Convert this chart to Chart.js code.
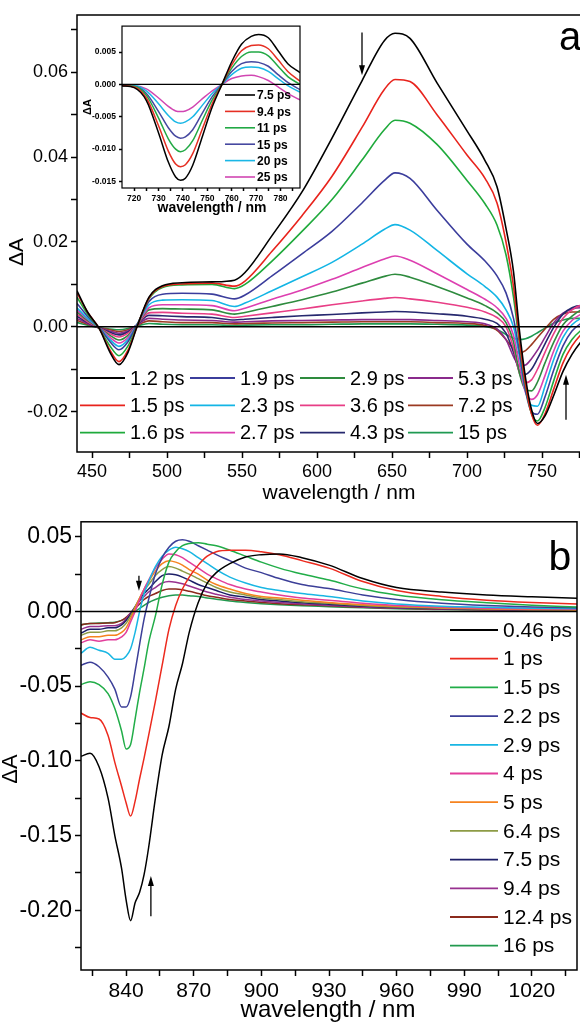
<!DOCTYPE html>
<html>
<head>
<meta charset="utf-8">
<script src="https://cdn.jsdelivr.net/npm/chart.js@4.4.1/dist/chart.umd.min.js"></script>
<style>
  html, body { margin: 0; padding: 0; background: #fff; overflow: hidden; }
  body { width: 580px; height: 1029px; position: relative; }
  canvas { position: absolute; }
  #chartA { left: 0; top: 0; }
  #inset { left: 80px; top: 18px; }
  #chartB { left: 0; top: 505px; }
</style>
</head>
<body>
<canvas id="chartA" width="620" height="510"></canvas>
<canvas id="inset" width="230" height="205"></canvas>
<canvas id="chartB" width="580" height="524"></canvas>
<script>
const FONT = "'Liberation Sans', Arial, Helvetica, sans-serif";

// ---- panel a (main) ----
const aWave = [440, 447, 455, 462, 468, 474, 480, 488, 497, 510, 530, 545, 552, 570, 590, 610, 630, 645, 652, 662, 680, 700, 712, 720, 726, 731, 735, 739, 743, 747, 752, 758, 764, 770, 776, 780];
const aTimes = ["1.2 ps", "1.5 ps", "1.6 ps", "1.9 ps", "2.3 ps", "2.7 ps", "2.9 ps", "3.6 ps", "4.3 ps", "5.3 ps", "7.2 ps", "15 ps"];
const aColors = ["#000000", "#e8231c", "#1faa3c", "#3b3d9c", "#13b5e5", "#dd3fb0", "#2e8b3e", "#e83e86", "#26286e", "#8a2a8c", "#9b3a22", "#1f9a52"];
const a12 = [0.0085, 0.0035, -0.0005, -0.0060, -0.0089, -0.0060, 0.0000, 0.0070, 0.0097, 0.0104, 0.0106, 0.0110, 0.0128, 0.0215, 0.0318, 0.0445, 0.0580, 0.0675, 0.0692, 0.0680, 0.0575, 0.0462, 0.0392, 0.0330, 0.0232, 0.0130, -0.0010, -0.0120, -0.0195, -0.0228, -0.0210, -0.0160, -0.0105, -0.0065, -0.0035, -0.0020];
const a15 = [0.0080, 0.0035, -0.0005, -0.0055, -0.0082, -0.0055, 0.0000, 0.0068, 0.0095, 0.0101, 0.0103, 0.0096, 0.0108, 0.0178, 0.0262, 0.0355, 0.0470, 0.0560, 0.0583, 0.0578, 0.0500, 0.0405, 0.0350, 0.0292, 0.0200, 0.0095, -0.0030, -0.0135, -0.0205, -0.0232, -0.0205, -0.0145, -0.0085, -0.0045, -0.0018, -0.0005];
const a16 = [0.0070, 0.0030, -0.0005, -0.0045, -0.0068, -0.0045, 0.0002, 0.0066, 0.0093, 0.0099, 0.0100, 0.0090, 0.0100, 0.0155, 0.0225, 0.0300, 0.0393, 0.0465, 0.0487, 0.0480, 0.0430, 0.0345, 0.0290, 0.0240, 0.0170, 0.0070, -0.0040, -0.0140, -0.0205, -0.0222, -0.0190, -0.0125, -0.0065, -0.0030, -0.0008, 0.0002];
const a19 = [0.0055, 0.0025, -0.0003, -0.0035, -0.0054, -0.0035, 0.0005, 0.0060, 0.0077, 0.0079, 0.0077, 0.0066, 0.0075, 0.0120, 0.0172, 0.0225, 0.0292, 0.0345, 0.0363, 0.0350, 0.0275, 0.0195, 0.0155, 0.0120, 0.0080, 0.0020, -0.0060, -0.0150, -0.0200, -0.0206, -0.0165, -0.0100, -0.0045, -0.0010, 0.0008, 0.0015];
const a23 = [0.0045, 0.0020, -0.0003, -0.0030, -0.0046, -0.0030, 0.0005, 0.0052, 0.0063, 0.0064, 0.0062, 0.0048, 0.0056, 0.0085, 0.0118, 0.0152, 0.0195, 0.0230, 0.0241, 0.0228, 0.0180, 0.0125, 0.0095, 0.0070, 0.0040, 0.0000, -0.0070, -0.0150, -0.0185, -0.0187, -0.0140, -0.0075, -0.0025, 0.0005, 0.0020, 0.0025];
const a27 = [0.0040, 0.0018, -0.0003, -0.0025, -0.0038, -0.0025, 0.0005, 0.0045, 0.0052, 0.0052, 0.0050, 0.0038, 0.0044, 0.0065, 0.0087, 0.0112, 0.0140, 0.0160, 0.0167, 0.0157, 0.0125, 0.0088, 0.0065, 0.0045, 0.0020, -0.0020, -0.0090, -0.0155, -0.0171, -0.0160, -0.0115, -0.0055, -0.0010, 0.0015, 0.0030, 0.0035];
const a29 = [0.0035, 0.0015, -0.0003, -0.0020, -0.0031, -0.0020, 0.0005, 0.0040, 0.0043, 0.0042, 0.0040, 0.0030, 0.0034, 0.0048, 0.0064, 0.0082, 0.0103, 0.0119, 0.0124, 0.0117, 0.0095, 0.0068, 0.0050, 0.0033, 0.0010, -0.0035, -0.0110, -0.0148, -0.0151, -0.0130, -0.0085, -0.0035, 0.0005, 0.0025, 0.0040, 0.0045];
const a36 = [0.0030, 0.0012, -0.0003, -0.0016, -0.0024, -0.0015, 0.0005, 0.0033, 0.0034, 0.0032, 0.0030, 0.0022, 0.0025, 0.0033, 0.0042, 0.0052, 0.0061, 0.0067, 0.0069, 0.0066, 0.0058, 0.0046, 0.0035, 0.0022, 0.0000, -0.0050, -0.0110, -0.0132, -0.0125, -0.0100, -0.0060, -0.0015, 0.0020, 0.0040, 0.0050, 0.0050];
const a43 = [0.0025, 0.0010, -0.0003, -0.0013, -0.0019, -0.0012, 0.0005, 0.0027, 0.0026, 0.0024, 0.0022, 0.0016, 0.0018, 0.0022, 0.0026, 0.0029, 0.0033, 0.0035, 0.0036, 0.0035, 0.0031, 0.0025, 0.0018, 0.0008, -0.0015, -0.0060, -0.0105, -0.0112, -0.0100, -0.0075, -0.0040, 0.0000, 0.0030, 0.0045, 0.0050, 0.0050];
const a53 = [0.0020, 0.0008, -0.0003, -0.0010, -0.0015, -0.0010, 0.0004, 0.0020, 0.0018, 0.0016, 0.0015, 0.0011, 0.0012, 0.0014, 0.0015, 0.0016, 0.0017, 0.0017, 0.0017, 0.0017, 0.0015, 0.0012, 0.0007, -0.0005, -0.0030, -0.0070, -0.0092, -0.0090, -0.0075, -0.0055, -0.0025, 0.0010, 0.0032, 0.0042, 0.0045, 0.0043];
const a72 = [0.0015, 0.0006, -0.0002, -0.0007, -0.0011, -0.0007, 0.0003, 0.0014, 0.0012, 0.0010, 0.0010, 0.0007, 0.0008, 0.0009, 0.0010, 0.0011, 0.0012, 0.0012, 0.0012, 0.0012, 0.0010, 0.0008, 0.0003, -0.0008, -0.0030, -0.0052, -0.0061, -0.0056, -0.0042, -0.0025, -0.0005, 0.0018, 0.0030, 0.0035, 0.0035, 0.0032];
const a150 = [0.0010, 0.0004, -0.0002, -0.0005, -0.0007, -0.0004, 0.0002, 0.0008, 0.0006, 0.0005, 0.0005, 0.0003, 0.0004, 0.0005, 0.0005, 0.0006, 0.0007, 0.0007, 0.0007, 0.0007, 0.0006, 0.0004, 0.0001, -0.0006, -0.0018, -0.0027, -0.0030, -0.0028, -0.0022, -0.0014, -0.0003, 0.0009, 0.0016, 0.0020, 0.0020, 0.0018];
const aXTicks = [450, 475, 500, 525, 550, 575, 600, 625, 650, 675, 700, 725, 750, 775];
const aXLabels = [450, 500, 550, 600, 650, 700, 750];
const aYTicks = [-0.02, -0.01, 0, 0.01, 0.02, 0.03, 0.04, 0.05, 0.06, 0.07];
const aYLabels = [-0.02, 0, 0.02, 0.04, 0.06];

// ---- inset of panel a ----
const iWave = [715, 720, 725, 730, 734, 737, 739, 741, 744, 748, 752, 756, 760, 764, 768, 771, 775, 779, 783, 788];
const iTimes = ["7.5 ps", "9.4 ps", "11 ps", "15 ps", "20 ps", "25 ps"];
const iColors = ["#000000", "#e52f23", "#22a945", "#4648a0", "#1ab7e6", "#d146b2"];
const i75 = [-0.0002, -0.0005, -0.0025, -0.0075, -0.0120, -0.0143, -0.0148, -0.0145, -0.0125, -0.0080, -0.0035, 0.0000, 0.0035, 0.0062, 0.0074, 0.0077, 0.0072, 0.0052, 0.0032, 0.0018];
const i94 = [-0.0002, -0.0004, -0.0021, -0.0064, -0.0103, -0.0123, -0.0127, -0.0124, -0.0107, -0.0068, -0.0030, 0.0000, 0.0030, 0.0052, 0.0060, 0.0061, 0.0055, 0.0038, 0.0020, 0.0005];
const i11 = [-0.0002, -0.0003, -0.0017, -0.0052, -0.0084, -0.0100, -0.0104, -0.0101, -0.0087, -0.0055, -0.0024, 0.0000, 0.0025, 0.0043, 0.0050, 0.0050, 0.0044, 0.0028, 0.0012, 0.0000];
const i15 = [-0.0002, -0.0003, -0.0014, -0.0042, -0.0067, -0.0080, -0.0083, -0.0081, -0.0070, -0.0044, -0.0019, 0.0000, 0.0020, 0.0032, 0.0035, 0.0034, 0.0028, 0.0015, 0.0003, -0.0008];
const i20 = [-0.0002, -0.0002, -0.0010, -0.0030, -0.0048, -0.0058, -0.0060, -0.0058, -0.0050, -0.0032, -0.0014, 0.0000, 0.0015, 0.0025, 0.0027, 0.0026, 0.0020, 0.0009, -0.0002, -0.0012];
const i25 = [-0.0002, -0.0002, -0.0007, -0.0021, -0.0034, -0.0041, -0.0042, -0.0041, -0.0035, -0.0022, -0.0010, 0.0000, 0.0009, 0.0013, 0.0014, 0.0012, 0.0006, -0.0004, -0.0014, -0.0024];
const iXTicks = [720, 725, 730, 735, 740, 745, 750, 755, 760, 765, 770, 775, 780, 785];
const iXLabels = [720, 730, 740, 750, 760, 770, 780];
const iYTicks = [-0.015, -0.01, -0.005, 0, 0.005];
const iYLabels = [-0.015, -0.01, -0.005, 0, 0.005];

// ---- panel b ----
const bWave = [820, 824, 828, 832, 835, 838, 840, 842, 844, 846, 848, 850, 853, 856, 859, 862, 865, 868, 872, 876, 880, 886, 893, 900, 908, 918, 930, 945, 960, 980, 1000, 1020, 1040];
const bTimes = ["0.46 ps", "1 ps", "1.5 ps", "2.2 ps", "2.9 ps", "4 ps", "5 ps", "6.4 ps", "7.5 ps", "9.4 ps", "12.4 ps", "16 ps"];
const bColors = ["#000000", "#ec2a1e", "#21ad48", "#3c3f98", "#19b6e3", "#e23e9b", "#f6831f", "#8d9b45", "#1d1f68", "#98318f", "#8b2a1c", "#229a4f"];
const b046 = [-0.097, -0.095, -0.104, -0.125, -0.150, -0.172, -0.193, -0.207, -0.195, -0.188, -0.176, -0.158, -0.125, -0.096, -0.077, -0.052, -0.035, -0.014, 0.006, 0.019, 0.026, 0.032, 0.0365, 0.038, 0.0385, 0.036, 0.031, 0.022, 0.016, 0.013, 0.011, 0.0098, 0.0088];
const b1 = [-0.068, -0.071, -0.072, -0.083, -0.101, -0.117, -0.128, -0.137, -0.127, -0.112, -0.098, -0.083, -0.060, -0.036, -0.012, 0.004, 0.015, 0.023, 0.031, 0.037, 0.040, 0.041, 0.041, 0.040, 0.038, 0.034, 0.029, 0.020, 0.014, 0.010, 0.0075, 0.006, 0.005];
const b15 = [-0.049, -0.047, -0.049, -0.055, -0.065, -0.080, -0.092, -0.089, -0.072, -0.054, -0.038, -0.021, -0.003, 0.018, 0.033, 0.040, 0.044, 0.0455, 0.046, 0.045, 0.044, 0.041, 0.037, 0.033, 0.029, 0.025, 0.021, 0.015, 0.011, 0.0078, 0.0058, 0.0042, 0.003];
const b22 = [-0.036, -0.034, -0.037, -0.044, -0.052, -0.064, -0.064, -0.057, -0.040, -0.022, -0.005, 0.008, 0.025, 0.036, 0.043, 0.047, 0.048, 0.047, 0.044, 0.041, 0.038, 0.034, 0.029, 0.026, 0.022, 0.018, 0.0153, 0.011, 0.008, 0.0055, 0.004, 0.003, 0.0025];
const b29 = [-0.028, -0.024, -0.026, -0.028, -0.032, -0.032, -0.030, -0.025, -0.014, 0.000, 0.012, 0.020, 0.030, 0.037, 0.041, 0.043, 0.042, 0.040, 0.036, 0.032, 0.028, 0.023, 0.019, 0.016, 0.014, 0.012, 0.010, 0.007, 0.005, 0.0035, 0.0028, 0.0022, 0.002];
const b4 = [-0.021, -0.019, -0.020, -0.019, -0.019, -0.017, -0.014, -0.007, 0.000, 0.008, 0.015, 0.021, 0.029, 0.035, 0.0385, 0.038, 0.036, 0.033, 0.029, 0.025, 0.022, 0.018, 0.015, 0.013, 0.011, 0.009, 0.0075, 0.0055, 0.004, 0.003, 0.0022, 0.0018, 0.0015];
const b5 = [-0.019, -0.017, -0.017, -0.016, -0.016, -0.014, -0.011, -0.005, 0.002, 0.009, 0.015, 0.020, 0.027, 0.032, 0.034, 0.033, 0.031, 0.028, 0.025, 0.021, 0.018, 0.015, 0.012, 0.010, 0.009, 0.0075, 0.006, 0.0045, 0.0035, 0.0025, 0.0018, 0.0013, 0.001];
const b64 = [-0.016, -0.014, -0.014, -0.013, -0.013, -0.011, -0.008, -0.003, 0.003, 0.009, 0.014, 0.018, 0.024, 0.028, 0.030, 0.029, 0.027, 0.025, 0.022, 0.019, 0.016, 0.013, 0.011, 0.009, 0.008, 0.0065, 0.0055, 0.004, 0.003, 0.0022, 0.0016, 0.0012, 0.001];
const b75 = [-0.0145, -0.012, -0.012, -0.011, -0.011, -0.009, -0.006, -0.002, 0.003, 0.008, 0.012, 0.015, 0.020, 0.024, 0.025, 0.0245, 0.023, 0.021, 0.018, 0.016, 0.014, 0.011, 0.0095, 0.008, 0.007, 0.0058, 0.0048, 0.0035, 0.0027, 0.002, 0.0015, 0.0011, 0.0009];
const b94 = [-0.012, -0.010, -0.010, -0.0095, -0.0095, -0.008, -0.005, -0.001, 0.003, 0.007, 0.010, 0.013, 0.016, 0.019, 0.020, 0.0195, 0.0185, 0.017, 0.015, 0.013, 0.0115, 0.0095, 0.008, 0.007, 0.006, 0.005, 0.0042, 0.003, 0.0023, 0.0017, 0.0012, 0.0009, 0.0008];
const b124 = [-0.009, -0.008, -0.008, -0.0078, -0.0075, -0.006, -0.004, -0.001, 0.002, 0.005, 0.008, 0.010, 0.012, 0.014, 0.015, 0.015, 0.0145, 0.0135, 0.012, 0.0105, 0.0095, 0.008, 0.007, 0.006, 0.0052, 0.0045, 0.0038, 0.0028, 0.0021, 0.0015, 0.0011, 0.0008, 0.0006];
const b16 = [-0.009, -0.008, -0.0078, -0.0075, -0.0072, -0.006, -0.0045, -0.0025, 0.000, 0.002, 0.004, 0.006, 0.008, 0.0095, 0.0105, 0.011, 0.011, 0.0105, 0.010, 0.009, 0.0082, 0.007, 0.006, 0.0052, 0.0045, 0.0038, 0.0032, 0.0024, 0.0018, 0.0013, 0.0009, 0.0007, 0.0005];
const bXTicks = [825, 840, 855, 870, 885, 900, 915, 930, 945, 960, 975, 990, 1005, 1020, 1035];
const bXLabels = [840, 870, 900, 930, 960, 990, 1020];
const bYTicks = [-0.225, -0.2, -0.175, -0.15, -0.125, -0.1, -0.075, -0.05, -0.025, 0, 0.025, 0.05];
const bYLabels = [-0.2, -0.15, -0.1, -0.05, 0, 0.05];

const aSeries = [a12, a15, a16, a19, a23, a27, a29, a36, a43, a53, a72, a150];
const iSeries = [i75, i94, i11, i15, i20, i25];
const bSeries = [b046, b1, b15, b22, b29, b4, b5, b64, b75, b94, b124, b16];

function makeDatasets(xs, seriesList, labels, colors, width) {
  return seriesList.map((ys, i) => ({
    label: labels[i],
    data: xs.map((x, j) => ({ x: x, y: ys[j] })),
    borderColor: colors[i],
    borderWidth: width,
    pointRadius: 0,
    cubicInterpolationMode: 'monotone',
    fill: false
  }));
}

function linearAxis(min, max, tickValues, labelValues, digits, font, tickLen, size, isX) {
  return {
    type: 'linear',
    min: min,
    max: max,
    afterBuildTicks: s => { s.ticks = tickValues.map(v => ({ value: v })); },
    afterFit: s => { if (isX) s.height = size; else s.width = size; },
    grid: { drawOnChartArea: false, drawTicks: true, tickLength: tickLen, tickWidth: 1.5, tickColor: '#000' },
    border: { display: false },
    ticks: {
      color: '#000',
      font: font,
      padding: 3,
      maxRotation: 0,
      autoSkip: false,
      callback: v => labelValues.some(l => Math.abs(l - v) < 1e-9) ? v.toFixed(digits) : ''
    }
  };
}

function drawArrow(ctx, x, y1, y2) {
  const dir = y2 > y1 ? 1 : -1;
  ctx.lineWidth = 1.3;
  ctx.beginPath();
  ctx.moveTo(x, y1);
  ctx.lineTo(x, y2 - dir * 6);
  ctx.stroke();
  ctx.beginPath();
  ctx.moveTo(x, y2);
  ctx.lineTo(x - 3, y2 - dir * 10);
  ctx.lineTo(x + 3, y2 - dir * 10);
  ctx.closePath();
  ctx.fill();
}

function drawLegend(ctx, lg) {
  ctx.font = lg.font;
  ctx.textBaseline = 'middle';
  ctx.textAlign = 'left';
  lg.labels.forEach((label, i) => {
    const col = Math.floor(i / lg.rows), row = i % lg.rows;
    const x = lg.colX[col], y = lg.y0 + row * lg.rowStep;
    ctx.strokeStyle = lg.colors[i];
    ctx.lineWidth = lg.lineWidth;
    ctx.beginPath();
    ctx.moveTo(x, y);
    ctx.lineTo(x + lg.lineLen, y);
    ctx.stroke();
    ctx.fillStyle = '#000';
    ctx.fillText(label, x + lg.lineLen + lg.gap, y + 1);
  });
}

const decorPlugin = {
  id: 'decor',
  beforeDraw(chart, args, opts) {
    if (!opts.whiteArea) return;
    const a = chart.chartArea, ctx = chart.ctx;
    ctx.save();
    ctx.fillStyle = '#fff';
    ctx.fillRect(a.left, a.top, a.right - a.left, a.bottom - a.top);
    ctx.restore();
  },
  afterDatasetsDraw(chart, args, opts) {
    const ctx = chart.ctx, a = chart.chartArea;
    const xs = chart.scales.x, ys = chart.scales.y;
    ctx.save();
    ctx.strokeStyle = '#000';
    ctx.fillStyle = '#000';
    ctx.lineWidth = opts.lineWidth;
    const y0 = ys.getPixelForValue(0);
    ctx.beginPath();
    ctx.moveTo(a.left, y0);
    ctx.lineTo(a.right, y0);
    ctx.stroke();
    ctx.strokeRect(a.left, a.top, a.right - a.left, a.bottom - a.top);
    (opts.arrows || []).forEach(ar => {
      ctx.strokeStyle = '#000';
      drawArrow(ctx, xs.getPixelForValue(ar.x), ys.getPixelForValue(ar.from), ys.getPixelForValue(ar.to));
    });
    drawLegend(ctx, opts.legend);
    (opts.texts || []).forEach(t => {
      ctx.save();
      ctx.translate(t.x, t.y);
      if (t.rot) ctx.rotate(t.rot);
      ctx.font = t.font;
      ctx.fillStyle = '#000';
      ctx.textAlign = 'center';
      ctx.textBaseline = t.base || 'middle';
      ctx.fillText(t.text, 0, 0);
      ctx.restore();
    });
    ctx.restore();
  }
};

function baseOptions(padding, decor, scales) {
  return {
    responsive: false,
    animation: false,
    devicePixelRatio: 1,
    events: [],
    layout: { padding: padding },
    plugins: { legend: { display: false }, tooltip: { enabled: false }, decor: decor },
    scales: scales
  };
}

const tickA = { family: FONT, size: 18 };
const tickBx = { family: FONT, size: 21 };
const tickBy = { family: FONT, size: 23 };
const tickI = { family: FONT, size: 8.5, weight: 'bold' };

new Chart(document.getElementById('chartA'), {
  type: 'line',
  data: { datasets: makeDatasets(aWave, aSeries, aTimes, aColors, 1.6) },
  options: baseOptions({ left: 0, top: 15, right: 33, bottom: 0 }, {
    lineWidth: 1.5,
    arrows: [{ x: 630, from: 0.0694, to: 0.0593 }, { x: 766, from: -0.0219, to: -0.0113 }],
    legend: { labels: aTimes, colors: aColors, rows: 3, colX: [80, 190, 300, 408], y0: 378, rowStep: 27.3,
              lineLen: 45, gap: 5, lineWidth: 1.8, font: '20px ' + FONT },
    texts: [
      { text: 'a', x: 570, y: 50, font: '40px ' + FONT, base: 'alphabetic' },
      { text: '\u0394A', x: 17, y: 252, rot: -Math.PI / 2, font: '21px ' + FONT },
      { text: 'wavelength / nm', x: 339, y: 493, font: '21px ' + FONT }
    ]
  }, {
    x: linearAxis(440, 780, aXTicks, aXLabels, 0, tickA, 6, 58, true),
    y: linearAxis(-0.0295, 0.0735, aYTicks, aYLabels, 2, tickA, 6, 77, false)
  }),
  plugins: [decorPlugin]
});

new Chart(document.getElementById('inset'), {
  type: 'line',
  data: { datasets: makeDatasets(iWave, iSeries, iTimes, iColors, 1.5) },
  options: baseOptions({ left: 0, top: 4, right: 10, bottom: 0 }, {
    whiteArea: true,
    lineWidth: 1.2,
    legend: { labels: iTimes, colors: iColors, rows: 6, colX: [145], y0: 77, rowStep: 16.4,
              lineLen: 30, gap: 2, lineWidth: 1.6, font: 'bold 12px ' + FONT },
    texts: [
      { text: '\u0394A', x: 8, y: 89, rot: -Math.PI / 2, font: 'bold 11px ' + FONT },
      { text: 'wavelength / nm', x: 132, y: 190, font: 'bold 14px ' + FONT }
    ]
  }, {
    x: linearAxis(715, 788, iXTicks, iXLabels, 0, tickI, 3, 35, true),
    y: linearAxis(-0.016, 0.009, iYTicks, iYLabels, 3, tickI, 3, 42, false)
  }),
  plugins: [decorPlugin]
});

new Chart(document.getElementById('chartB'), {
  type: 'line',
  data: { datasets: makeDatasets(bWave, bSeries, bTimes, bColors, 1.5) },
  options: baseOptions({ left: 0, top: 13, right: 3, bottom: 0 }, {
    lineWidth: 1.5,
    arrows: [{ x: 845.7, from: 0.0239, to: 0.0139 }, { x: 851, from: -0.204, to: -0.177 }],
    legend: { labels: bTimes, colors: bColors, rows: 12, colX: [450], y0: 125, rowStep: 28.7,
              lineLen: 48, gap: 5, lineWidth: 1.8, font: '21px ' + FONT },
    texts: [
      { text: 'b', x: 560, y: 65, font: '41px ' + FONT, base: 'alphabetic' },
      { text: '\u0394A', x: 11, y: 264, rot: -Math.PI / 2, font: '22px ' + FONT },
      { text: 'wavelength / nm', x: 328, y: 505, font: '24px ' + FONT }
    ]
  }, {
    x: linearAxis(820, 1040, bXTicks, bXLabels, 0, tickBx, 6, 59, true),
    y: linearAxis(-0.24, 0.06, bYTicks, bYLabels, 2, tickBy, 6, 81, false)
  }),
  plugins: [decorPlugin]
});
</script>
</body>
</html>
